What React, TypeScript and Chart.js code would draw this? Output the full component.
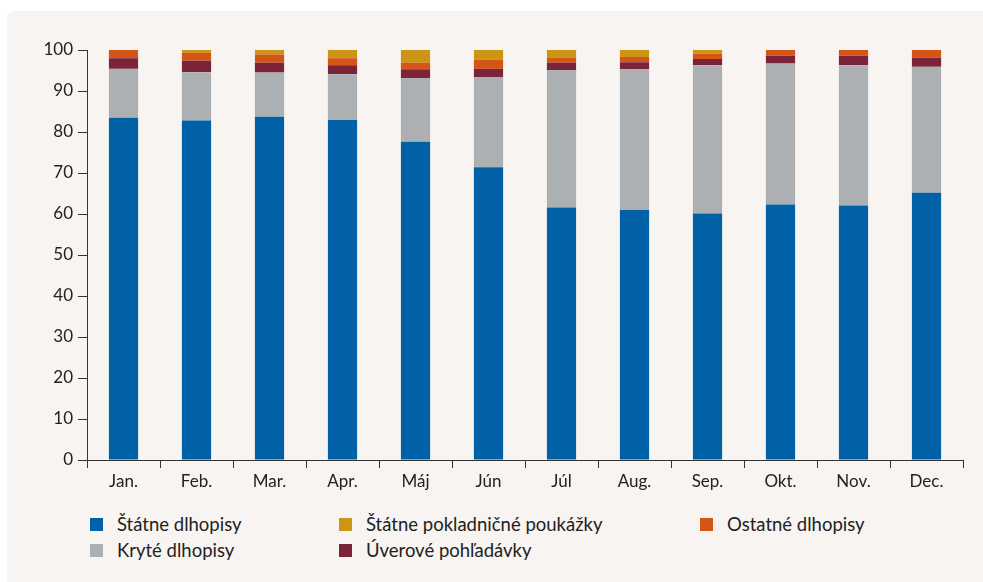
import React, { useEffect, useRef } from "react";
import { Chart, registerables } from "chart.js";

Chart.register(...registerables);

const months = ["Jan.", "Feb.", "Mar.", "Apr.", "Máj", "Jún", "Júl", "Aug.", "Sep.", "Okt.", "Nov.", "Dec."];
const statneDlhopisy = [83.5, 82.8, 83.7, 82.9, 77.6, 71.4, 61.6, 61.0, 60.1, 62.3, 62.1, 65.2];
const kryteDlhopisy = [11.9, 11.8, 10.8, 11.2, 15.5, 22.0, 33.5, 34.3, 36.2, 34.4, 34.2, 30.7];
const uverovePohladavky = [2.6, 2.8, 2.4, 2.2, 2.2, 2.0, 1.8, 1.7, 1.5, 1.9, 2.3, 2.2];
const ostatneDlhopisy = [2.0, 1.9, 2.0, 1.7, 1.6, 2.2, 1.3, 1.3, 1.3, 1.4, 1.4, 1.9];
const pokladnicnePoukazky = [0, 0.7, 1.1, 2.0, 3.1, 2.4, 1.8, 1.7, 0.9, 0, 0, 0];
const yTicks = [0, 10, 20, 30, 40, 50, 60, 70, 80, 90, 100];

const C_BLUE = "#0061a6";
const C_GRAY = "#adb0b3";
const C_MAROON = "#7a2339";
const C_ORANGE = "#d55517";
const C_GOLD = "#cc9513";
const BG = "#f7f4f1";
const FONT = "Lato, 'Open Sans', sans-serif";

const legendItems = [
  { label: "Štátne dlhopisy", color: C_BLUE, left: 90, top: 517 },
  { label: "Kryté dlhopisy", color: C_GRAY, left: 90, top: 543 },
  { label: "Štátne pokladničné poukážky", color: C_GOLD, left: 339, top: 517 },
  { label: "Úverové pohľadávky", color: C_MAROON, left: 339, top: 543 },
  { label: "Ostatné dlhopisy", color: C_ORANGE, left: 700, top: 517 },
];

export default function App() {
  const ref = useRef<HTMLCanvasElement | null>(null);

  useEffect(() => {
    document.body.style.margin = "0";
    if (!ref.current) return;
    const chart = new Chart(ref.current, {
      type: "bar",
      data: {
        labels: months,
        datasets: [
          { label: "Štátne dlhopisy", data: statneDlhopisy, backgroundColor: C_BLUE },
          { label: "Kryté dlhopisy", data: kryteDlhopisy, backgroundColor: C_GRAY },
          { label: "Úverové pohľadávky", data: uverovePohladavky, backgroundColor: C_MAROON },
          { label: "Ostatné dlhopisy", data: ostatneDlhopisy, backgroundColor: C_ORANGE },
          { label: "Štátne pokladničné poukážky", data: pokladnicnePoukazky, backgroundColor: C_GOLD },
        ],
      },
      options: {
        animation: false,
        responsive: false,
        maintainAspectRatio: false,
        layout: { padding: { top: 50, right: 20, left: 0, bottom: 0 } },
        plugins: { legend: { display: false }, tooltip: { enabled: false } },
        datasets: { bar: { categoryPercentage: 0.8, barPercentage: 0.5 } },
        scales: {
          x: {
            stacked: true,
            grid: {
              display: true,
              drawOnChartArea: false,
              drawTicks: true,
              tickLength: 8,
              offset: true,
              color: "#333333",
              lineWidth: 1,
            },
            border: { display: true, color: "#333333", width: 1 },
            ticks: { color: "#222222", font: { family: FONT, size: 17 }, padding: 3 },
            afterFit: (s: any) => {
              s.height = 40;
            },
          },
          y: {
            stacked: true,
            min: 0,
            max: 100,
            afterBuildTicks: (s: any) => {
              s.ticks = yTicks.map((v) => ({ value: v }));
            },
            grid: {
              display: true,
              drawOnChartArea: false,
              drawTicks: true,
              tickLength: 9,
              color: "#333333",
              lineWidth: 1,
            },
            border: { display: true, color: "#333333", width: 1 },
            ticks: { color: "#222222", font: { family: FONT, size: 17 }, padding: 5 },
            afterFit: (s: any) => {
              s.width = 87;
            },
          },
        },
      },
    });
    return () => chart.destroy();
  }, []);

  return (
    <div style={{ position: "relative", width: 983, height: 582, background: "#ffffff", overflow: "hidden" }}>
      <div
        style={{
          position: "absolute",
          left: 7,
          top: 11,
          width: 990,
          height: 571,
          background: BG,
          borderTopLeftRadius: 8,
        }}
      />
      <canvas ref={ref} width={983} height={500} style={{ position: "absolute", left: 0, top: 0, width: 983, height: 500 }} />
      {legendItems.map((it) => (
        <div
          key={it.label}
          style={{
            position: "absolute",
            left: it.left,
            top: it.top,
            height: 14,
            display: "flex",
            alignItems: "center",
            fontFamily: FONT,
            fontSize: 18.5,
            color: "#222222",
            whiteSpace: "nowrap",
          }}
        >
          <span style={{ display: "inline-block", width: 13, height: 13, background: it.color, marginRight: 14, flexShrink: 0 }} />
          <span>{it.label}</span>
        </div>
      ))}
    </div>
  );
}
